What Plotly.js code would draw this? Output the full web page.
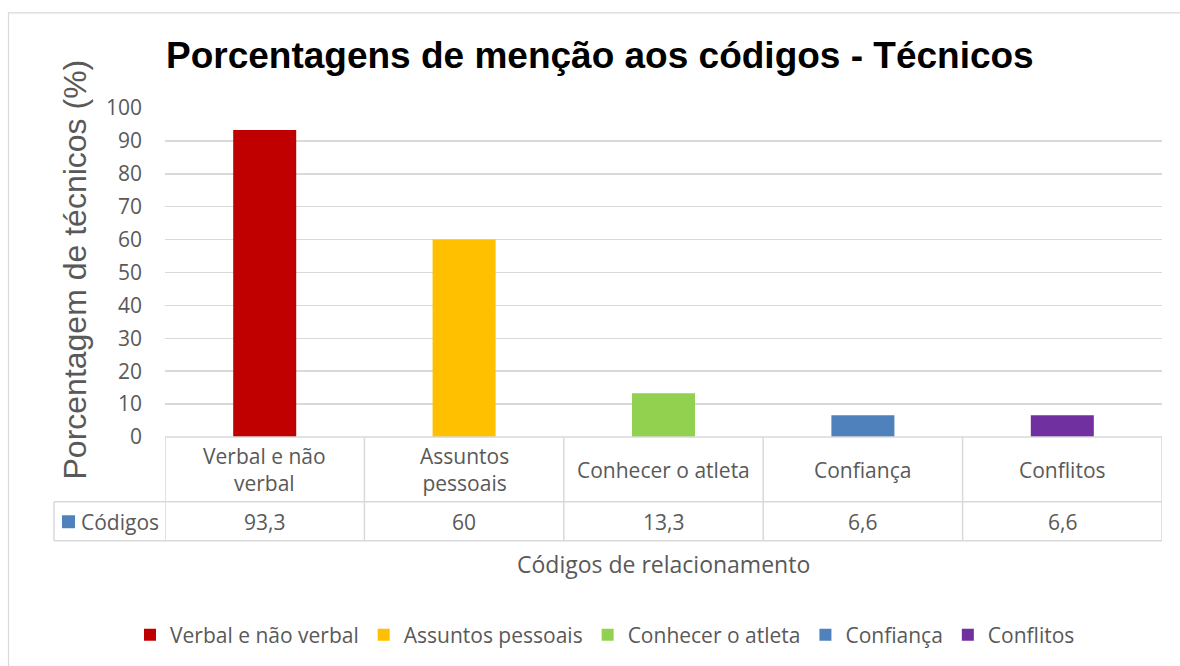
<!DOCTYPE html>
<html>
<head>
<meta charset="utf-8">
<script src="https://cdn.plot.ly/plotly-3.0.1.min.js"></script>
<style>html,body{margin:0;padding:0;background:#fff;}#chart{width:1180px;height:666px;}</style>
</head>
<body>
<div id="chart"></div>
<script>
var categories = ["Verbal e não verbal", "Assuntos pessoais", "Conhecer o atleta", "Confiança", "Conflitos"];
var tableLabels = ["Verbal e não<br>verbal", "Assuntos<br>pessoais", "Conhecer o atleta", "Confiança", "Conflitos"];
var values = [93.3, 60, 13.3, 6.6, 6.6];
var valueLabels = ["93,3", "60", "13,3", "6,6", "6,6"];
var colors = ["#C00000", "#FFC000", "#92D050", "#4F81BD", "#7030A0"];
var seriesName = "Códigos";
var seriesColor = "#4F81BD";
var titleText = "Porcentagens de menção aos códigos - Técnicos";
var yTitleText = "Porcentagem de técnicos (%)";
var xTitleText = "Códigos de relacionamento";

// pixel helpers (plot area: x 165..1162, y 108..438)
var L = 165, R = 1162, T = 108, B = 438;
function px(x){ return (x - L) / (R - L); }
function py(y){ return (B - y) / (B - T); }

var gray = "#595959";
var grid = "#d9d9d9";
var tfont = "Open Sans, sans-serif";

var traces = categories.map(function(c, i){
  return {
    type: "bar",
    x: [i],
    y: [values[i]],
    name: c,
    width: 0.316,
    marker: {color: colors[i]},
    hoverinfo: "x+y"
  };
});

var shapes = [];
var annotations = [];
var n = categories.length;
// table lines
shapes.push({type:"line", xref:"paper", yref:"paper", x0:px(L), x1:px(R), y0:py(438), y1:py(438), line:{color:grid, width:1.5}});
shapes.push({type:"line", xref:"paper", yref:"paper", x0:px(54), x1:px(R), y0:py(503), y1:py(503), line:{color:grid, width:1.5}});
shapes.push({type:"line", xref:"paper", yref:"paper", x0:px(54), x1:px(R), y0:py(542), y1:py(542), line:{color:grid, width:1.5}});
shapes.push({type:"line", xref:"paper", yref:"paper", x0:px(54), x1:px(54), y0:py(503), y1:py(542), line:{color:grid, width:1.5}});
for (var k = 0; k <= n; k++) {
  shapes.push({type:"line", xref:"x", yref:"paper", x0:k-0.5, x1:k-0.5, y0:py(438), y1:py(542), line:{color:grid, width:1.5}});
}
// series key square in table
shapes.push({type:"rect", xref:"paper", yref:"paper", x0:px(62), x1:px(75), y0:py(516.5), y1:py(529.5), fillcolor:seriesColor, line:{width:0}});
// outer chart border
shapes.push({type:"rect", xref:"paper", yref:"paper", x0:px(8.5), x1:px(1190), y0:py(12.5), y1:py(690), line:{color:"#d9d9d9", width:1.2}, layer:"below"});

for (var i = 0; i < n; i++) {
  annotations.push({xref:"x", yref:"paper", x:i, y:py(471), text:tableLabels[i], showarrow:false, font:{family:tfont, size:21, color:gray}, xanchor:"center", yanchor:"middle", align:"center"});
  annotations.push({xref:"x", yref:"paper", x:i, y:py(523), text:valueLabels[i], showarrow:false, font:{family:tfont, size:21, color:gray}, xanchor:"center", yanchor:"middle"});
}
annotations.push({xref:"paper", yref:"paper", x:px(79), y:py(523), text:seriesName, showarrow:false, font:{family:tfont, size:21, color:gray}, xanchor:"left", yanchor:"middle"});
annotations.push({xref:"paper", yref:"paper", x:px(600), y:py(55), text:"<b>"+titleText+"</b>", showarrow:false, font:{family:"Liberation Sans, Arial, sans-serif", size:37, color:"#000"}, xanchor:"center", yanchor:"middle"});
annotations.push({xref:"paper", yref:"paper", x:px(75), y:py(270), text:yTitleText, textangle:-90, showarrow:false, font:{family:"Liberation Sans, Arial, sans-serif", size:32, color:gray}, xanchor:"center", yanchor:"middle"});
annotations.push({xref:"paper", yref:"paper", x:px(663.5), y:py(565), text:xTitleText, showarrow:false, font:{family:tfont, size:23, color:gray}, xanchor:"center", yanchor:"middle"});

var layout = {
  width: 1180, height: 666,
  margin: {l: L, r: 1180 - R, t: T, b: 666 - B, pad: 0},
  paper_bgcolor: "#fff", plot_bgcolor: "#fff",
  barmode: "overlay",
  showlegend: true,
  legend: {orientation:"h", x:px(605), xanchor:"center", y:py(635), yanchor:"middle", font:{family:tfont, size:21, color:gray}, itemclick:false, traceorder:"normal"},
  xaxis: {range:[-0.5, n-0.5], showticklabels:false, showgrid:false, zeroline:false, ticks:"", fixedrange:true},
  yaxis: {range:[0, 100], dtick:10, tick0:0, showgrid:true, gridcolor:grid, gridwidth:1.5, zeroline:false, showline:false,
          tickfont:{family:tfont, size:21, color:gray}, ticks:"", ticklabelstandoff:22, fixedrange:true},
  shapes: shapes,
  annotations: annotations
};

Plotly.newPlot("chart", traces, layout, {displayModeBar:false, staticPlot:true});
</script>
</body>
</html>
